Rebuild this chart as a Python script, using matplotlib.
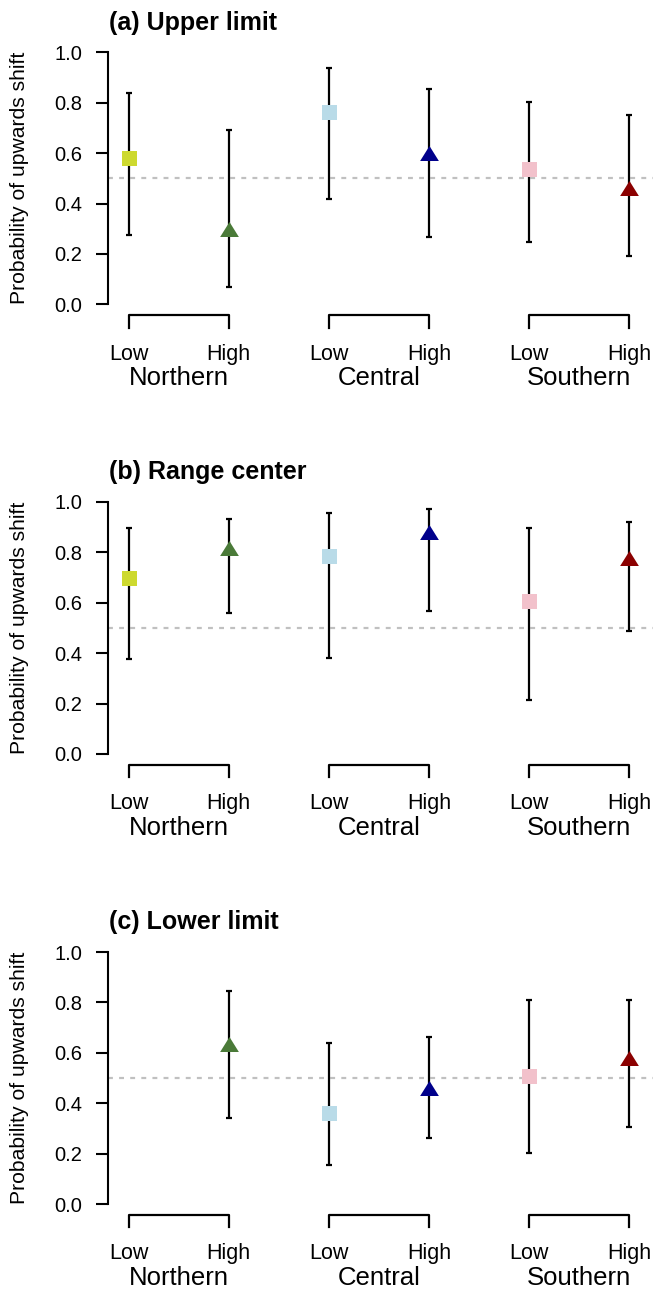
import numpy as np
import matplotlib
matplotlib.use('Agg')
import matplotlib.pyplot as plt

plt.rcParams['font.family'] = ['Liberation Sans', 'DejaVu Sans']

# 区域和海拔分组
regions = ['Northern', 'Central', 'Southern']
elevations = ['Low', 'High']
panel_titles = ['(a) Upper limit', '(b) Range center', '(c) Lower limit']
ylabel = 'Probability of upwards shift'

# 每个面板: 均值, 下限, 上限 (顺序: 北低 北高 中低 中高 南低 南高)
upper_mean = [0.580, 0.298, 0.762, 0.600, 0.536, 0.462]
upper_lo = [0.275, 0.070, 0.416, 0.269, 0.248, 0.191]
upper_hi = [0.837, 0.693, 0.936, 0.854, 0.804, 0.752]

center_mean = [0.697, 0.816, 0.784, 0.879, 0.608, 0.776]
center_lo = [0.376, 0.559, 0.381, 0.567, 0.216, 0.490]
center_hi = [0.898, 0.934, 0.955, 0.974, 0.898, 0.922]

lower_mean = [np.nan, 0.635, 0.361, 0.459, 0.507, 0.578]
lower_lo = [np.nan, 0.340, 0.154, 0.263, 0.203, 0.304]
lower_hi = [np.nan, 0.847, 0.639, 0.662, 0.808, 0.808]

colors = ['#cdd92f', '#4a7a38', '#b9dbe8', '#00008b', '#f2c1cb', '#8b0000']
yticks = [0.0, 0.2, 0.4, 0.6, 0.8, 1.0]

panels = [(upper_mean, upper_lo, upper_hi),
          (center_mean, center_lo, center_hi),
          (lower_mean, lower_lo, lower_hi)]

W, H = 653, 1289
fig = plt.figure(figsize=(W / 100, H / 100), dpi=100)

x = np.arange(1, 7)
tri = [(-1, -0.8), (1, -0.8), (0, 0.8)]
axis_bottoms = [304.3, 754.0, 1204.0]   # 像素位置 (y=0)
span = 252.0

for k, (mean, lo, hi) in enumerate(panels):
    mean = np.array(mean)
    lo = np.array(lo)
    hi = np.array(hi)
    ax = fig.add_axes([108 / W, 1 - axis_bottoms[k] / H, 545 / W, span / H])
    ax.set_xlim(0.795, 6.235)
    ax.set_ylim(0, 1)
    for s in ['top', 'right', 'bottom']:
        ax.spines[s].set_visible(False)
    ax.spines['left'].set_linewidth(1.5)
    ax.set_xticks([])
    ax.set_yticks(yticks)
    ax.set_yticklabels(['%.1f' % t for t in yticks])
    ax.tick_params(axis='y', length=8.6, width=1.5, pad=10, labelsize=14.5)

    ax.axhline(0.5, color='#c0c0c0', lw=1.6, dashes=(2.2, 2.8), zorder=1)

    ok = ~np.isnan(mean)
    ax.errorbar(x[ok], mean[ok], yerr=[mean[ok] - lo[ok], hi[ok] - mean[ok]],
                fmt='none', ecolor='black', elinewidth=1.6, capsize=2.4,
                capthick=1.6, zorder=2, clip_on=False)
    for i in range(6):
        if not ok[i]:
            continue
        if i % 2 == 0:
            ax.plot(x[i], mean[i], marker='s', ms=10.8, color=colors[i],
                    mew=0, zorder=3, clip_on=False)
        else:
            ax.plot(x[i], mean[i], marker=tri, ms=13.5, color=colors[i],
                    mew=0, zorder=3, clip_on=False)

    # 分组括号和标签
    trans = ax.get_xaxis_transform()
    yb0 = -10.7 / span
    yb1 = -23.4 / span
    for g, name in enumerate(regions):
        x0, x1 = 2 * g + 1, 2 * g + 2
        ax.plot([x0, x0, x1, x1], [yb1, yb0, yb0, yb1], color='black',
                lw=1.6, transform=trans, clip_on=False)
        ax.text(x0, -49.7 / span, elevations[0], transform=trans,
                ha='center', va='center', fontsize=15.5)
        ax.text(x1, -49.7 / span, elevations[1], transform=trans,
                ha='center', va='center', fontsize=15.5)
        ax.text((x0 + x1) / 2, -74 / span, name, transform=trans,
                ha='center', va='center', fontsize=18.5)

    ax.text(0.002, 1 + 29.5 / span, panel_titles[k], transform=ax.transAxes,
            ha='left', va='center', fontsize=18, fontweight='bold')
    ax.text((20 - 108) / 545, 0.5, ylabel, transform=ax.transAxes,
            rotation=90, ha='center', va='center', fontsize=15.2)

fig.savefig('out.png', dpi=100)
